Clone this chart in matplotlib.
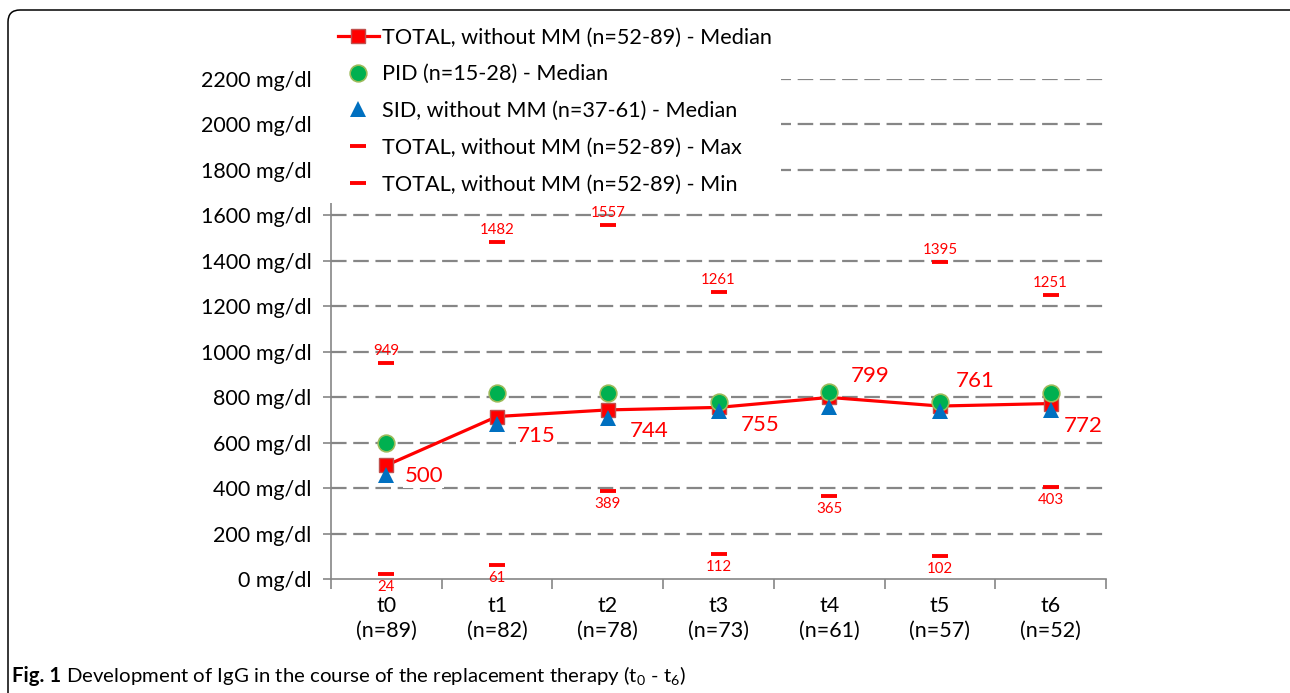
import numpy as np
import matplotlib
matplotlib.use("Agg")
import matplotlib.pyplot as plt
from matplotlib.patches import FancyBboxPatch

plt.rcParams['font.family'] = ['Lato', 'DejaVu Sans']
plt.rcParams['mathtext.fontset'] = 'custom'
plt.rcParams['mathtext.rm'] = 'Lato'

# data
timepoints = ["t0", "t1", "t2", "t3", "t4", "t5", "t6"]
n_patients = [89, 82, 78, 73, 61, 57, 52]
total_median = [500, 715, 744, 755, 799, 761, 772]
pid_median = [600, 820, 820, 780, 824, 780, 818]
sid_median = [457, 683, 708, 740, 758, 739, 744]
total_max = [949, 1482, 1557, 1261, 2210, 1395, 1251]
total_min = [24, 61, 389, 112, 365, 102, 403]

# where the median labels sit relative to their point (pixels)
median_label_offsets = [(18, -11), (20, -20), (22, -21), (22, -18), (22, 21), (16, 25), (13, -22)]

RED = "#FF0000"
GRID = "#868686"

fig = plt.figure(figsize=(12.9, 6.93), dpi=100)
ax = fig.add_axes([331 / 1290, 114 / 693, 775 / 1290, 500 / 693])

x = np.arange(len(timepoints))

ax.plot(x, total_median, color=RED, lw=2.3, marker="s", ms=10, mfc=RED, mec="#C0504D",
        mew=1, zorder=3, label="TOTAL, without MM (n=52-89) - Median")
ax.plot(x, pid_median, ls="none", marker="o", ms=12, mfc="#00B050", mec="#9BBB59", mew=1.2,
        zorder=3, label="PID (n=15-28) - Median")
ax.plot(x, sid_median, ls="none", marker="^", ms=12, mfc="#0070C0", mec="#0070C0", mew=0,
        zorder=3, label="SID, without MM (n=37-61) - Median")
ax.plot(x, total_max, ls="none", marker="_", ms=11.5, mew=2.8, color=RED, zorder=3,
        label="TOTAL, without MM (n=52-89) - Max")
ax.plot(x, total_min, ls="none", marker="_", ms=11.5, mew=2.8, color=RED, zorder=3,
        label="TOTAL, without MM (n=52-89) - Min")

for xi, v, off in zip(x, total_median, median_label_offsets):
    ax.annotate(str(v), (xi, v), xytext=off, textcoords="offset pixels", ha="left",
                va="center", color=RED, fontsize=16,
                bbox=dict(facecolor="white", edgecolor="none", pad=1), zorder=2.8)
for xi, v in zip(x, total_max):
    ax.annotate(str(v), (xi, v), xytext=(0, 12), textcoords="offset pixels", ha="center",
                va="center", color=RED, fontsize=10.8, zorder=4)
for xi, v in zip(x, total_min):
    ax.annotate(str(v), (xi, v), xytext=(0, -13), textcoords="offset pixels", ha="center",
                va="center", color=RED, fontsize=10.8, zorder=4)

ax.set_xlim(-0.5, 6.5)
ax.set_ylim(0, 2200)
yt = np.arange(0, 2201, 200)
ax.set_yticks(yt)
ax.set_yticklabels([f"{v} mg/dl" for v in yt], fontsize=15.5)
ax.set_xticks(x)
ax.set_xticklabels([f"{t}\n(n={n})" for t, n in zip(timepoints, n_patients)], fontsize=15.5,
                   linespacing=1.35)
ax.set_xticks(np.arange(-0.5, 7, 1), minor=True)
ax.tick_params(axis="x", which="major", length=0, pad=12)
ax.tick_params(axis="x", which="minor", length=7, color=GRID, width=1.2)
ax.tick_params(axis="y", length=6, color=GRID, width=1.2, pad=8)
# legend box hides the tick marks above 1600
for v, tick in zip(yt, ax.yaxis.get_major_ticks()):
    if v > 1600:
        tick.tick1line.set_visible(False)

for v in yt[1:]:
    ax.axhline(v, color=GRID, lw=1.6, ls=(0, (7, 3)), zorder=1)

for s in ["top", "right"]:
    ax.spines[s].set_visible(False)
ax.spines["left"].set_color(GRID)
ax.spines["bottom"].set_color(GRID)
ax.spines["left"].set_linewidth(1.2)
ax.spines["bottom"].set_linewidth(1.2)

leg = ax.legend(loc="upper left", bbox_to_anchor=(329 / 1290, 1 - 19 / 693),
                bbox_transform=fig.transFigure, fontsize=15.6, frameon=True, fancybox=False,
                framealpha=1, facecolor="white", edgecolor="none", handlelength=1.9,
                handletextpad=0.15, labelspacing=0.77, borderpad=0.4, borderaxespad=0,
                numpoints=1)
leg.set_zorder(5)

# caption and frame
cap = fig.text(12 / 1290, 1 - 676 / 693, "Fig. 1", fontsize=14.7, fontweight="bold", va="center")
ax.annotate(r" Development of IgG in the course of the replacement therapy (t$_0$ - t$_6$)",
            xy=(1, 0.5), xycoords=cap, va="center", ha="left", fontsize=14.7,
            annotation_clip=False)

frame = FancyBboxPatch((8, -30), 1300, 693 - 10 + 30, boxstyle="round,pad=0,rounding_size=12",
                       transform=None, facecolor="none", edgecolor="black", lw=1.1)
fig.add_artist(frame)

fig.savefig("out.png", dpi=100)
